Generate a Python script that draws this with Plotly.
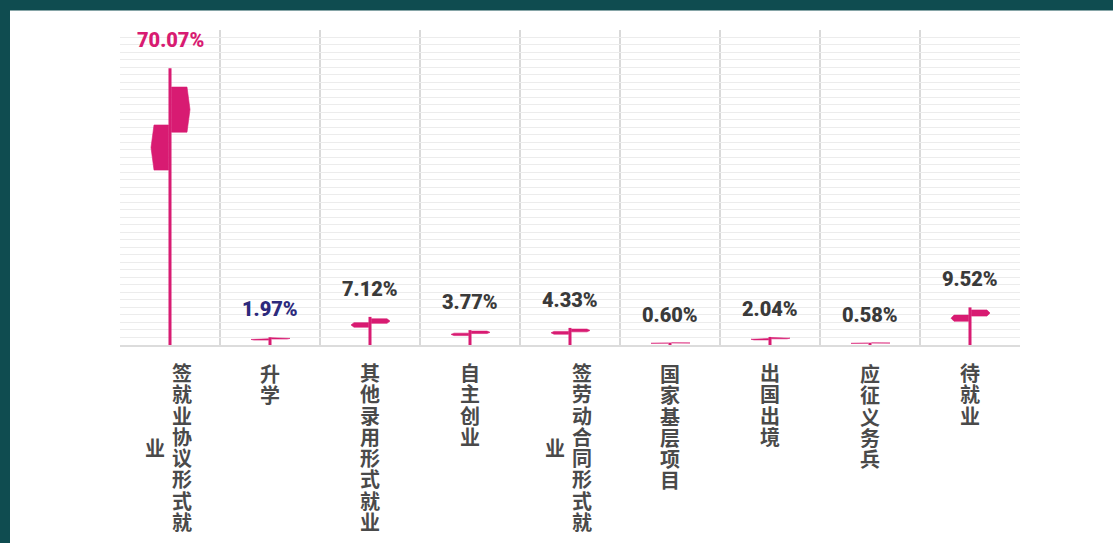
import plotly.graph_objects as go

# ---- data ----
categories = ["签就业协议形式就业", "升学", "其他录用形式就业", "自主创业",
              "签劳动合同形式就业", "国家基层项目", "出国出境", "应征义务兵", "待就业"]
values = [70.07, 1.97, 7.12, 3.77, 4.33, 0.60, 2.04, 0.58, 9.52]
value_labels = ["70.07%", "1.97%", "7.12%", "3.77%", "4.33%", "0.60%", "2.04%", "0.58%", "9.52%"]
label_colors = ["#d81b72", "#2d2a7c", "#3a3a3a", "#3a3a3a", "#3a3a3a",
                "#3a3a3a", "#3a3a3a", "#3a3a3a", "#3a3a3a"]

PINK = "#d81b72"
TEAL = "#0f4c50"

fig = go.Figure()

# poles
px, py = [], []
for i, v in enumerate(values):
    px += [i, i, None]
    py += [0, v, None]
fig.add_trace(go.Scatter(x=px, y=py, mode="lines",
                         line=dict(color=PINK, width=3), hoverinfo="skip"))

# flags (signpost boards), heights proportional to value
fx, fy = [], []
for i, v in enumerate(values):
    # right board
    t, b = v * 0.932, v * 0.769
    m = (t + b) / 2
    fx += [i + 0.015, i + 0.17, i + 0.20, i + 0.17, i + 0.015, i + 0.015, None]
    fy += [t, t, m, b, b, t, None]
    # left board
    t, b = v * 0.795, v * 0.632
    m = (t + b) / 2
    fx += [i - 0.015, i - 0.16, i - 0.19, i - 0.16, i - 0.015, i - 0.015, None]
    fy += [t, t, m, b, b, t, None]
fig.add_trace(go.Scatter(x=fx, y=fy, mode="lines", fill="toself",
                         fillcolor=PINK, line=dict(color=PINK, width=0.6),
                         hoverinfo="skip"))

annotations = []
# value labels
for i, (v, lab, c) in enumerate(zip(values, value_labels, label_colors)):
    annotations.append(dict(
        x=i, y=v, xref="x", yref="y", text=lab, showarrow=False,
        yshift=28, yanchor="middle", xanchor="center",
        font=dict(family="Roboto, Liberation Sans Narrow, sans-serif",
                  size=20, color=c, weight=900)))

# vertical category labels (columns of up to 8 characters, right-to-left)
PITCH = 21.25            # px between character centres
BASE = PITCH / 1.3       # annotation font size giving that line pitch
for i, name in enumerate(categories):
    cols = [name[j:j + 8] for j in range(0, len(name), 8)]
    main = cols[0]
    main_mid = (len(main) - 1) / 2
    for ci, col in enumerate(cols):
        xc = i if len(cols) == 1 else i + 0.12 - 0.27 * ci
        mid = main_mid if ci > 0 else (len(col) - 1) / 2
        text = "<br>".join("<span style='font-size:20px'><b>%s</b></span>" % ch
                           for ch in col)
        annotations.append(dict(
            x=xc, y=0, xref="x", yref="y", text=text,
            showarrow=False, yanchor="middle", xanchor="center",
            yshift=-(28 + PITCH * mid), borderpad=0,
            font=dict(family="Noto Sans CJK SC", size=BASE, color="#4a4a4a")))

L, R, T, B = 120, 93, 30, 198
W, H = 1113, 543
pw, ph = W - L - R, H - T - B
shapes = [
    dict(type="rect", xref="paper", yref="paper", layer="above",
         x0=-L / pw, x1=(W - L) / pw, y0=(ph + T - 10.5) / ph, y1=(ph + T) / ph,
         fillcolor=TEAL, line=dict(width=0)),
    dict(type="rect", xref="paper", yref="paper", layer="above",
         x0=-L / pw, x1=(10 - L) / pw, y0=-B / ph, y1=(ph + T) / ph,
         fillcolor=TEAL, line=dict(width=0)),
]

fig.update_layout(
    width=W, height=H, margin=dict(l=L, r=R, t=T, b=B),
    paper_bgcolor="white", plot_bgcolor="white", showlegend=False,
    annotations=annotations, shapes=shapes, hovermode=False,
    xaxis=dict(range=[-0.5, 8.5], tickvals=[0.5 + k for k in range(8)],
               showgrid=True, gridcolor="#d9d9d9", gridwidth=2,
               showticklabels=False, ticks="", zeroline=False,
               showline=True, linecolor="#dcdcdc", linewidth=2, fixedrange=True),
    yaxis=dict(range=[0, 79.75], tick0=0, dtick=1.9, showgrid=True,
               gridcolor="#ececec", gridwidth=1, showticklabels=False,
               ticks="", zeroline=False, fixedrange=True),
)

fig.write_html("out.html", config={"displayModeBar": False},
               post_script="document.body.style.margin='0';"
                           "document.body.style.overflow='hidden';")
